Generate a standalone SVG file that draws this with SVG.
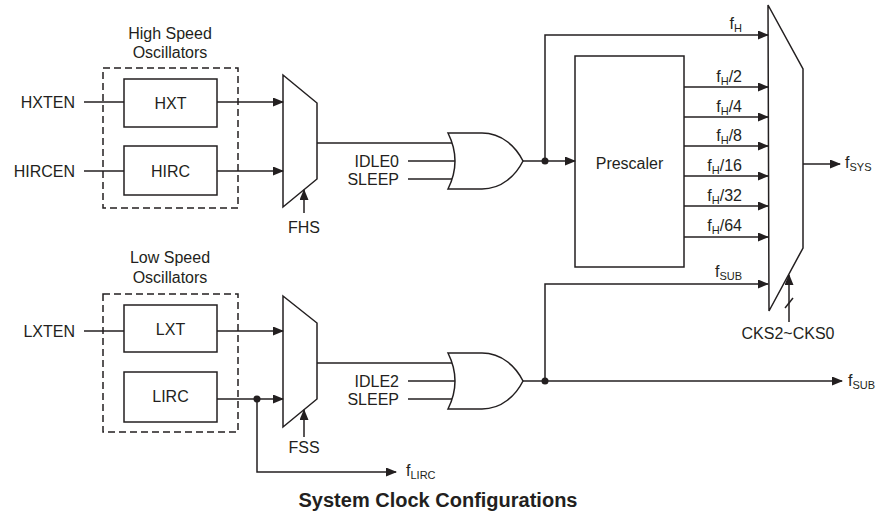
<svg xmlns="http://www.w3.org/2000/svg" width="877" height="519" viewBox="0 0 877 519">
<style>
  .ln{fill:none;stroke:#231f20;stroke-width:1.5}
  .bx{fill:#fff;stroke:#231f20;stroke-width:1.5}
  .dash{fill:none;stroke:#231f20;stroke-width:1.5;stroke-dasharray:7,4}
  .t{font-family:"Liberation Sans",Arial,sans-serif;font-size:16px;fill:#231f20}
  .s{font-size:11px}
  .m{text-anchor:middle}
  .e{text-anchor:end}
  .cap{font-family:"Liberation Sans",Arial,sans-serif;font-size:20px;font-weight:bold;fill:#231f20;text-anchor:middle}
  .dot{fill:#231f20}
</style>
<defs>
  <marker id="ar" markerUnits="userSpaceOnUse" markerWidth="11" markerHeight="9" refX="10" refY="4.5" orient="auto">
    <path d="M0,0 L11,4.5 L0,9 z" fill="#231f20"/>
  </marker>
</defs>

<g id="hso">
  <rect class="dash" x="103" y="68" width="135" height="140"/>
  <text class="t m" x="170" y="39">High Speed</text>
  <text class="t m" x="170" y="58">Oscillators</text>
</g>
<g id="hxt"><rect class="bx" x="124" y="79" width="93" height="48"/><text class="t m" x="170.5" y="109">HXT</text></g>
<g id="hirc"><rect class="bx" x="124" y="146" width="93" height="49"/><text class="t m" x="170.5" y="177">HIRC</text></g>
<g id="lso">
  <rect class="dash" x="103" y="294" width="135" height="138"/>
  <text class="t m" x="170" y="263">Low Speed</text>
  <text class="t m" x="170" y="283">Oscillators</text>
</g>
<g id="lxt"><rect class="bx" x="124" y="305" width="93" height="47"/><text class="t m" x="170.5" y="335">LXT</text></g>
<g id="lirc"><rect class="bx" x="124" y="372" width="93" height="50"/><text class="t m" x="170.5" y="402">LIRC</text></g>

<g id="mux1"><path class="bx" d="M283,75 L317,103 L317,179 L283,207 Z"/></g>
<g id="mux3"><path class="bx" d="M283,296 L317,323 L317,399 L283,427 Z"/></g>
<g id="or1"><path class="bx" d="M448,133 L482,133 C502,133 516,147 523,161 C516,175 502,189 482,189 L448,189 Q462,161 448,133 Z"/></g>
<g id="or2"><path class="bx" d="M448,353 L482,353 C502,353 516,367 523,381 C516,395 502,409 482,409 L448,409 Q462,381 448,353 Z"/></g>
<g id="prescaler"><rect class="bx" x="575" y="56" width="109" height="211"/><text class="t m" x="629.5" y="169">Prescaler</text></g>
<g id="mux2"><path class="bx" d="M768,5 L803,69 L803,248 L769,311 Z"/></g>

<g id="labels">
  <text class="t e" x="75" y="108">HXTEN</text>
  <text class="t e" x="75" y="177">HIRCEN</text>
  <text class="t e" x="75" y="337">LXTEN</text>
  <text class="t m" x="304" y="233">FHS</text>
  <text class="t m" x="304" y="453">FSS</text>
  <text class="t e" x="399" y="167">IDLE0</text>
  <text class="t e" x="399" y="185">SLEEP</text>
  <text class="t e" x="399" y="387">IDLE2</text>
  <text class="t e" x="399" y="405">SLEEP</text>
  <text class="t e" x="742" y="29">f<tspan class="s" dy="3">H</tspan></text>
  <text class="t e" x="742" y="82">f<tspan class="s" dy="3">H</tspan><tspan dy="-3">/2</tspan></text>
  <text class="t e" x="742" y="112">f<tspan class="s" dy="3">H</tspan><tspan dy="-3">/4</tspan></text>
  <text class="t e" x="742" y="141">f<tspan class="s" dy="3">H</tspan><tspan dy="-3">/8</tspan></text>
  <text class="t e" x="742" y="171">f<tspan class="s" dy="3">H</tspan><tspan dy="-3">/16</tspan></text>
  <text class="t e" x="742" y="201">f<tspan class="s" dy="3">H</tspan><tspan dy="-3">/32</tspan></text>
  <text class="t e" x="742" y="231">f<tspan class="s" dy="3">H</tspan><tspan dy="-3">/64</tspan></text>
  <text class="t e" x="742" y="277">f<tspan class="s" dy="3">SUB</tspan></text>
  <text class="t" x="845" y="168">f<tspan class="s" dy="3">SYS</tspan></text>
  <text class="t" x="848" y="386">f<tspan class="s" dy="3">SUB</tspan></text>
  <text class="t" x="406" y="476">f<tspan class="s" dy="3">LIRC</tspan></text>
  <text class="t m" x="788" y="339">CKS2~CKS0</text>
  <text class="cap" x="438" y="507">System Clock Configurations</text>
</g>

<g id="connectors">
  <line class="ln" x1="84" y1="102" x2="124" y2="102"/>
  <line class="ln" x1="84" y1="171" x2="124" y2="171"/>
  <line class="ln" x1="84" y1="331" x2="124" y2="331"/>
  <line class="ln" x1="217" y1="102" x2="283" y2="102" marker-end="url(#ar)"/>
  <line class="ln" x1="217" y1="171" x2="283" y2="171" marker-end="url(#ar)"/>
  <line class="ln" x1="217" y1="331" x2="283" y2="331" marker-end="url(#ar)"/>
  <line class="ln" x1="217" y1="399" x2="283" y2="399" marker-end="url(#ar)"/>
  <line class="ln" x1="304" y1="213" x2="304" y2="190" marker-end="url(#ar)"/>
  <line class="ln" x1="304" y1="437" x2="304" y2="410" marker-end="url(#ar)"/>
  <polyline class="ln" points="257,399 257,472 396,472" marker-end="url(#ar)"/>
  <circle class="dot" cx="257" cy="399" r="3.5"/>
  <line class="ln" x1="317" y1="143" x2="452" y2="143"/>
  <line class="ln" x1="408" y1="161" x2="455" y2="161"/>
  <line class="ln" x1="408" y1="179" x2="452" y2="179"/>
  <line class="ln" x1="317" y1="363" x2="452" y2="363"/>
  <line class="ln" x1="408" y1="381" x2="455" y2="381"/>
  <line class="ln" x1="408" y1="399" x2="452" y2="399"/>
  <line class="ln" x1="523" y1="161" x2="575" y2="161" marker-end="url(#ar)"/>
  <polyline class="ln" points="545,161 545,35 768,35" marker-end="url(#ar)"/>
  <circle class="dot" cx="545" cy="161" r="3.5"/>
  <line class="ln" x1="684" y1="87" x2="768" y2="87" marker-end="url(#ar)"/>
  <line class="ln" x1="684" y1="117" x2="768" y2="117" marker-end="url(#ar)"/>
  <line class="ln" x1="684" y1="146" x2="768" y2="146" marker-end="url(#ar)"/>
  <line class="ln" x1="684" y1="176" x2="768" y2="176" marker-end="url(#ar)"/>
  <line class="ln" x1="684" y1="206" x2="768" y2="206" marker-end="url(#ar)"/>
  <line class="ln" x1="684" y1="237" x2="768" y2="237" marker-end="url(#ar)"/>
  <line class="ln" x1="523" y1="381" x2="842" y2="381" marker-end="url(#ar)"/>
  <polyline class="ln" points="545,381 545,284 768,284" marker-end="url(#ar)"/>
  <circle class="dot" cx="545" cy="381" r="3.5"/>
  <line class="ln" x1="803" y1="164" x2="840" y2="164" marker-end="url(#ar)"/>
  <line class="ln" x1="789" y1="322" x2="789" y2="275" marker-end="url(#ar)"/>
  <line class="ln" x1="785" y1="308" x2="793" y2="298"/>
</g>
</svg>
